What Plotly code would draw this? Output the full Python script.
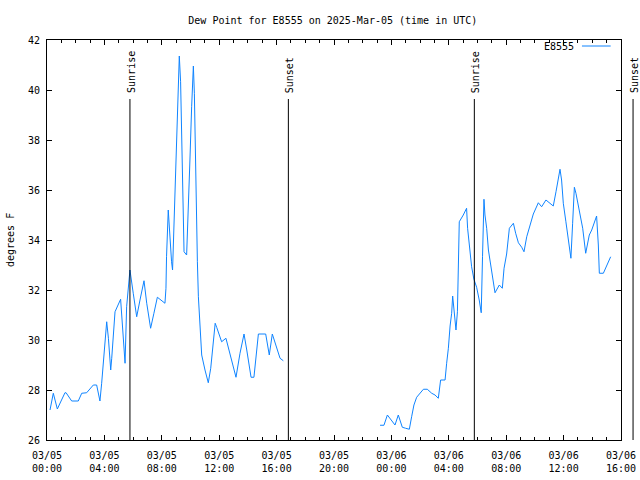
import plotly.graph_objects as go

# ---- data (hours since 2025-03-05 00:00 UTC, dew point in deg F) ----
hours_day1 = [0.21, 0.44, 0.72, 1.25, 1.33, 1.72, 2.18, 2.42, 2.76, 3.23, 3.46, 3.69, 3.81, 3.93,
              4.04, 4.16, 4.28, 4.44, 4.51, 4.62, 4.74, 5.13, 5.27, 5.44, 5.55, 5.67, 5.78, 6.01,
              6.25, 6.48, 6.76, 6.95, 7.22, 7.45, 7.69, 7.87, 8.22, 8.29, 8.33, 8.45, 8.57, 8.68,
              8.75, 8.85, 8.90, 8.99, 9.08, 9.15, 9.22, 9.31, 9.45, 9.55, 9.73, 9.85, 9.96, 10.08,
              10.20, 10.27, 10.38, 10.48, 10.55, 10.66, 10.78, 11.01, 11.24, 11.41, 11.60, 11.72,
              11.83, 12.17, 12.47, 12.87, 13.17, 13.45, 13.73, 13.92, 14.22, 14.42, 14.73, 15.24,
              15.49, 15.70, 15.89, 16.24, 16.47]
dewpt_day1 = [27.20, 27.87, 27.24, 27.89, 27.89, 27.56, 27.56, 27.87, 27.89, 28.20, 28.20, 27.56,
              28.27, 29.13, 29.60, 30.73, 30.07, 28.80, 29.27, 30.00, 31.13, 31.63, 30.53, 29.07,
              31.33, 32.27, 32.80, 31.87, 30.93, 31.60, 32.37, 31.47, 30.47, 31.07, 31.71, 31.63,
              31.47, 32.07, 33.33, 35.20, 33.87, 33.13, 32.80, 34.60, 35.87, 37.07, 39.53, 40.73,
              41.36, 40.33, 36.53, 33.53, 33.40, 35.07, 37.20, 39.33, 40.96, 39.87, 35.40, 33.13,
              31.73, 30.40, 29.40, 28.80, 28.29, 28.87, 30.00, 30.67, 30.50, 29.93, 30.07, 29.20,
              28.51, 29.47, 30.24, 29.60, 28.51, 28.51, 30.24, 30.24, 29.40, 30.24, 29.93, 29.27,
              29.17]
hours_day2 = [23.21, 23.48, 23.72, 24.25, 24.48, 24.76, 24.99, 25.25, 25.41, 25.57, 25.76, 25.99,
              26.23, 26.50, 26.81, 27.04, 27.27, 27.43, 27.74, 27.85, 27.97, 28.09, 28.20, 28.27,
              28.36, 28.50, 28.60, 28.64, 28.73, 29.01, 29.24, 29.31, 29.48, 29.59, 29.75, 29.94,
              30.12, 30.26, 30.35, 30.45, 30.52, 30.64, 30.76, 30.99, 31.22, 31.52, 31.73, 31.85,
              32.03, 32.22, 32.38, 32.50, 32.66, 32.85, 33.08, 33.24, 33.43, 33.61, 33.89, 34.24,
              34.47, 34.77, 35.28, 35.47, 35.63, 35.75, 35.86, 35.98, 36.16, 36.33, 36.44, 36.51,
              36.63, 36.75, 36.86, 37.03, 37.19, 37.33, 37.54, 37.61, 37.79, 37.96, 38.12, 38.30,
              38.42, 38.49, 38.77, 39.00, 39.28]
dewpt_day2 = [26.59, 26.59, 27.00, 26.60, 27.00, 26.51, 26.47, 26.43, 26.93, 27.40, 27.71, 27.89,
              28.03, 28.03, 27.87, 27.80, 27.67, 28.40, 28.40, 29.07, 29.67, 30.56, 31.07, 31.76,
              31.20, 30.40, 31.13, 32.56, 34.73, 35.00, 35.27, 34.47, 33.33, 32.93, 32.43, 32.11,
              31.60, 31.09, 33.33, 35.63, 35.00, 34.47, 33.60, 32.67, 31.89, 32.20, 32.07, 32.87,
              33.44, 34.47, 34.60, 34.67, 34.27, 33.89, 33.71, 33.53, 34.13, 34.53, 35.04, 35.49,
              35.33, 35.60, 35.36, 35.93, 36.40, 36.83, 36.40, 35.47, 34.73, 34.07, 33.60, 33.27,
              34.67, 36.11, 35.87, 35.40, 34.93, 34.47, 33.47, 33.67, 34.20, 34.40, 34.64, 34.96,
              33.80, 32.67, 32.67, 33.00, 33.33]

sun_event_hours = [5.78, 16.82, 29.78, 40.84]
sun_event_labels = ["Sunrise", "Sunset", "Sunrise", "Sunset"]

x_tick_hours = [0, 4, 8, 12, 16, 20, 24, 28, 32, 36, 40]
x_tick_labels = ["03/05<br>00:00", "03/05<br>04:00", "03/05<br>08:00", "03/05<br>12:00",
                 "03/05<br>16:00", "03/05<br>20:00", "03/06<br>00:00", "03/06<br>04:00",
                 "03/06<br>08:00", "03/06<br>12:00", "03/06<br>16:00"]
y_ticks = [26, 28, 30, 32, 34, 36, 38, 40, 42]

X_MIN, X_MAX = 0, 40
Y_MIN, Y_MAX = 26, 42
LINE_COLOR = "#0f84ff"
FONT = "DejaVu Sans Mono"

x_all = hours_day1 + [None] + hours_day2
y_all = dewpt_day1 + [None] + dewpt_day2

fig = go.Figure()
fig.add_trace(go.Scatter(x=x_all, y=y_all, mode="lines", name="E8555",
                         line=dict(color=LINE_COLOR, width=1), connectgaps=False,
                         showlegend=False))

shapes = []
annotations = []
for h, lab in zip(sun_event_hours, sun_event_labels):
    px = (h - X_MIN) / (X_MAX - X_MIN)
    shapes.append(dict(type="line", xref="paper", yref="paper", x0=px, x1=px,
                       y0=0, y1=(39.64 - Y_MIN) / (Y_MAX - Y_MIN),
                       line=dict(color="black", width=1)))
    annotations.append(dict(text=lab, xref="paper", yref="paper", x=px,
                            y=(39.8 - Y_MIN) / (Y_MAX - Y_MIN),
                            xanchor="center", yanchor="bottom", textangle=-90,
                            showarrow=False, xshift=1,
                            font=dict(family=FONT, size=10, color="black")))

# legend (gnuplot style: text then line sample)
annotations.append(dict(text="E8555", xref="paper", yref="paper", x=0.922, y=0.985,
                        xanchor="right", yanchor="middle", showarrow=False,
                        font=dict(family=FONT, size=10, color="black")))
shapes.append(dict(type="line", xref="paper", yref="paper", x0=0.932, x1=0.982,
                   y0=0.985, y1=0.985, line=dict(color=LINE_COLOR, width=1)))

# y axis title
annotations.append(dict(text="degrees F", xref="paper", yref="paper", x=0, y=0.5,
                        xanchor="center", yanchor="middle", textangle=-90, xshift=-37,
                        showarrow=False, font=dict(family=FONT, size=10, color="black")))

fig.update_layout(
    width=640, height=480,
    margin=dict(l=47, r=19, t=40, b=40, autoexpand=False),
    paper_bgcolor="white", plot_bgcolor="white",
    font=dict(family=FONT, size=10, color="black"),
    title=dict(text="Dew Point for E8555 on 2025-Mar-05 (time in UTC)",
               x=0.52, xref="container", y=1 - 20 / 480, yref="container",
               xanchor="center", yanchor="middle",
               font=dict(family=FONT, size=10, color="black")),
    shapes=shapes, annotations=annotations,
    showlegend=False,
)
fig.update_xaxes(range=[X_MIN, X_MAX], tickmode="array", tickvals=x_tick_hours,
                 ticktext=x_tick_labels, ticks="inside", ticklen=5, tickcolor="black",
                 showline=True, linecolor="black", linewidth=1, mirror="ticks",
                 showgrid=False, zeroline=False, automargin=False, ticklabelstandoff=6,
                 minor=dict(dtick=1, tick0=0, ticks="inside", ticklen=3, tickcolor="black",
                            showgrid=False),
                 tickfont=dict(family=FONT, size=10, color="black"))
fig.update_yaxes(range=[Y_MIN, Y_MAX], tickmode="array", tickvals=y_ticks,
                 ticks="inside", ticklen=5, tickcolor="black",
                 showline=True, linecolor="black", linewidth=1, mirror="ticks",
                 showgrid=False, zeroline=False, automargin=False, ticklabelstandoff=4,
                 tickfont=dict(family=FONT, size=10, color="black"))

fig.write_html("out.html", config={"displayModeBar": False},
               post_script="document.body.style.margin='0';document.body.style.overflow='hidden';")
